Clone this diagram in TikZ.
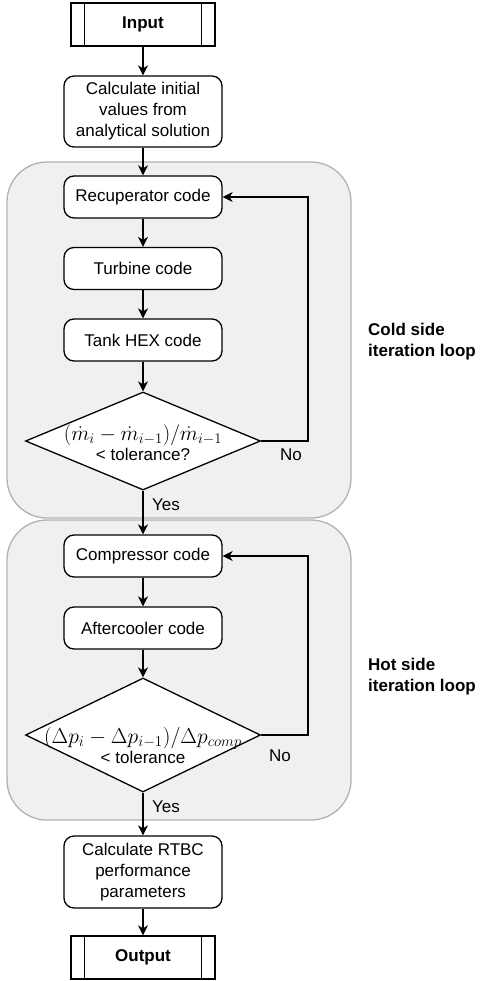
\documentclass[tikz,border=0pt]{standalone}
\usepackage{fontspec}
\usepackage{graphicx}
\setmainfont{Liberation Sans}
\usetikzlibrary{arrows.meta,shapes.geometric,calc}
\begin{document}
\begin{tikzpicture}[x=1pt,y=-1pt,
  every node/.style={font=\fontsize{17}{21}\selectfont},
  arr/.style={-{Stealth[length=10pt,width=10pt,inset=3pt]},line width=1.3pt},
  ln/.style={line width=1.3pt},
  box/.style={draw,line width=1.3pt,rounded corners=10pt,fill=white,minimum width=158pt,align=center,inner sep=2pt},
  term/.style={draw,line width=1.3pt,fill=white,minimum width=144pt,minimum height=43pt,inner sep=0pt},
  dia/.style={draw,line width=1.3pt,fill=white,diamond,minimum width=235pt,minimum height=98pt,inner sep=0pt},
  grp/.style={draw=black!30,line width=1.3pt,fill=black!6,rounded corners=40pt},
  lab/.style={inner sep=0pt},
  glab/.style={font=\fontsize{17}{21}\selectfont\bfseries,align=left,anchor=west,inner sep=0pt}]
\useasboundingbox (0,0) rectangle (479,981);
% groups
\draw[grp] (7,162) rectangle (351,518);
\draw[grp] (7,520) rectangle (351,820);
\node[glab] (coldlab) at (368,342) {Cold side\\iteration loop};
\node[glab] (hotlab) at (368,677) {Hot side\\iteration loop};
% nodes
\node[term] (in) at (143,24.5) {\textbf{Input}};
\draw[ln] ([xshift=14pt]in.north west) -- ([xshift=14pt]in.south west);
\draw[ln] ([xshift=-14pt]in.north east) -- ([xshift=-14pt]in.south east);
\node[box,minimum height=71pt] (calc1) at (143,111.5) {Calculate initial\\values from\\analytical solution};
\node[box,minimum height=42pt] (rec) at (143,197) {Recuperator code};
\node[box,minimum height=42pt] (tur) at (143,268.5) {Turbine code};
\node[box,minimum height=42pt] (tank) at (143,340) {Tank HEX code};
\node[dia] (d1) at (143,441) {};
\node[lab,align=center] (d1t) at (143,443) {\scalebox{1.22}{$(\dot m_i-\dot m_{i-1})/\dot m_{i-1}$}\\[-1pt]< tolerance?};
\node[box,minimum height=42pt] (comp) at (143,556) {Compressor code};
\node[box,minimum height=42pt] (aft) at (143,628) {Aftercooler code};
\node[dia,minimum height=114pt] (d2) at (143,735) {};
\node[lab,align=center] (d2t) at (143,745) {\scalebox{1.25}{$(\Delta p_i-\Delta p_{i-1})/\Delta p_{comp}$}\\[-1pt]< tolerance};
\node[box,minimum height=72pt] (calc2) at (143,872) {Calculate RTBC\\performance\\parameters};
\node[term] (out) at (143,957.5) {\textbf{Output}};
\draw[ln] ([xshift=14pt]out.north west) -- ([xshift=14pt]out.south west);
\draw[ln] ([xshift=-14pt]out.north east) -- ([xshift=-14pt]out.south east);
% connectors
\draw[arr] (in) -- (calc1);
\draw[arr] (calc1) -- (rec);
\draw[arr] (rec) -- (tur);
\draw[arr] (tur) -- (tank);
\draw[arr] (tank) -- (d1);
\coordinate (c1) at (308,441);
\draw[arr] (d1.east) -- (c1) |- (rec.east);
\node[lab] (no1) at (291,455) {No};
\draw[arr] (d1.south) -- (comp);
\node[lab] (yes1) at (166,505) {Yes};
\draw[arr] (comp) -- (aft);
\draw[arr] (aft) -- (d2);
\coordinate (c2) at (308,735);
\draw[arr] (d2.east) -- (c2) |- (comp.east);
\node[lab] (no2) at (280,756) {No};
\draw[arr] (d2.south) -- (calc2);
\node[lab] (yes2) at (166,807) {Yes};
\draw[arr] (calc2) -- (out);
\end{tikzpicture}
\end{document}
